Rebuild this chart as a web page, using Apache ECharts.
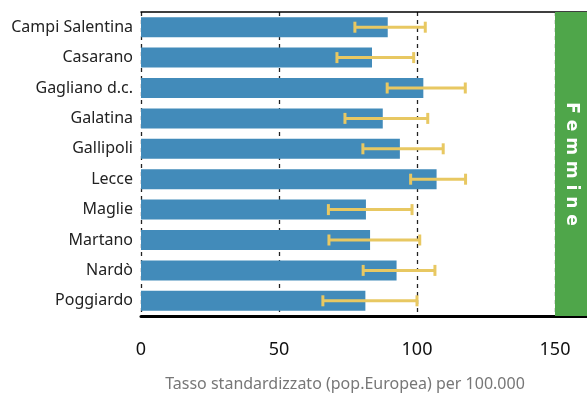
<!DOCTYPE html>
<html>
<head>
<meta charset="utf-8">
<script src="https://cdn.jsdelivr.net/npm/echarts@6/dist/echarts.min.js"></script>
<style>
  html, body { margin: 0; padding: 0; background: #fff; }
  #chart { width: 587px; height: 394px; }
</style>
</head>
<body>
<div id="chart"></div>
<script>
const comuni = ['Campi Salentina', 'Casarano', 'Gagliano d.c.', 'Galatina', 'Gallipoli',
  'Lecce', 'Maglie', 'Martano', 'Nardò', 'Poggiardo']
const tasso = [89.4, 83.7, 102.3, 87.6, 93.8, 107.1, 81.5, 83, 92.6, 81.3]
const icInf = [77.5, 71, 89.2, 73.9, 80.4, 97.7, 67.9, 68.1, 80.5, 65.9]
const icSup = [103, 98.8, 117.5, 103.9, 109.5, 117.6, 98.2, 101, 106.5, 100]
const xTicks = [0, 50, 100, 150]

let chart = echarts.init(document.getElementById('chart'))

let errData = comuni.map((c, i) => [i, icInf[i], icSup[i]])

let option = {
  animation: false,
  grid: { left: 141, right: 0, top: 12, bottom: 78, outerBoundsMode: 'none', containLabel: false },
  xAxis: [{
    type: 'value', min: 0, max: 161.6, interval: 50,
    name: 'Tasso standardizzato (pop.Europea) per 100.000',
    nameLocation: 'middle', nameGap: 60,
    nameTextStyle: { color: '#777', fontSize: 16, fontFamily: 'Noto Sans', padding: [0, 38, 0, 0] },
    axisLine: { show: true, lineStyle: { color: '#000', width: 3 } },
    axisTick: { show: false },
    axisLabel: {
      margin: 25, fontSize: 18, color: '#111', fontFamily: 'Noto Sans',
      formatter: v => xTicks.includes(v) ? String(v) : ''
    },
    splitLine: { show: true, lineStyle: { color: '#222', type: [4, 4], width: 1.3 } }
  }, {
    type: 'value', position: 'top', min: 0, max: 161.6,
    axisLine: { show: true, lineStyle: { color: '#000', width: 1.5 } },
    axisTick: { show: false }, axisLabel: { show: false }, splitLine: { show: false }
  }],
  yAxis: {
    type: 'category', data: comuni, inverse: true,
    axisLine: { show: false }, axisTick: { show: false },
    axisLabel: { margin: 8, fontSize: 16, color: '#222', fontFamily: 'Noto Sans' }
  },
  series: [{
    type: 'bar', data: tasso, barWidth: 20,
    itemStyle: { color: '#428bba' },
    markArea: {
      silent: true,
      itemStyle: { color: '#4fa64a' },
      data: [[{ xAxis: 150 }, { xAxis: 161.6 }]]
    }
  }, {
    type: 'custom', data: errData, z: 5,
    renderItem: function (params, api) {
      let y = api.value(0)
      let a = api.coord([api.value(1), y])
      let b = api.coord([api.value(2), y])
      let h = 5.5
      let st = { stroke: '#e8c862', lineWidth: 3 }
      return {
        type: 'group', children: [
          { type: 'line', shape: { x1: a[0], y1: a[1], x2: b[0], y2: b[1] }, style: st },
          { type: 'line', shape: { x1: a[0], y1: a[1] - h, x2: a[0], y2: a[1] + h }, style: st },
          { type: 'line', shape: { x1: b[0], y1: b[1] - h, x2: b[0], y2: b[1] + h }, style: st }
        ]
      }
    }
  }],
  graphic: [{
    type: 'text', x: 571, y: 164, rotation: -Math.PI / 2, z: 10,
    style: {
      text: 'F e m m i n e', fill: '#fff', fontSize: 17, fontWeight: 'bold',
      fontFamily: 'DejaVu Sans', align: 'center', verticalAlign: 'middle'
    }
  }]
}
chart.setOption(option)
</script>
</body>
</html>
